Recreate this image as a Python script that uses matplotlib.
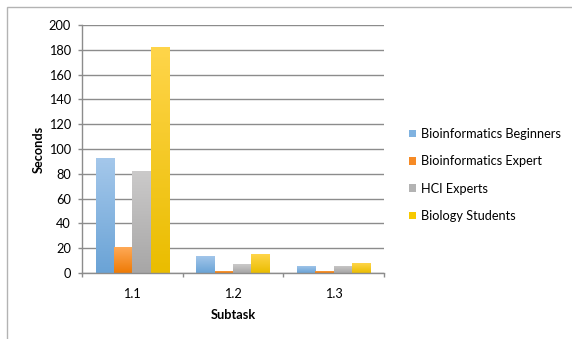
import numpy as np
import matplotlib
matplotlib.use('Agg')
import matplotlib.pyplot as plt
from matplotlib.colors import LinearSegmentedColormap
from matplotlib.patches import Rectangle, Patch

subtasks = ['1.1', '1.2', '1.3']
groups = ['Bioinformatics Beginners', 'Bioinformatics Expert', 'HCI Experts', 'Biology Students']
beginners = [93, 14, 6]
expert = [21, 2, 2]
hci = [82, 7, 6]
biology = [182, 15, 8]
series = [beginners, expert, hci, biology]

# (bottom, top) colours of each bar gradient, plus a flat legend colour
shades = [('#6aa3d6', '#a5c8eb'),
          ('#ee7a05', '#ffab5a'),
          ('#a7a6a6', '#cbcaca'),
          ('#eabd00', '#ffd54a')]
flat = ['#7fb2e0', '#f68a25', '#b3b3b3', '#f7c900']

plt.rcParams['font.family'] = ['Lato', 'DejaVu Sans']
plt.rcParams['font.size'] = 9.2

fig = plt.figure(figsize=(5.72, 3.39), dpi=100)
ax = fig.add_axes([82/572, 1-273/339, 302/572, 248/339])

n = len(series)
gap = 1.5
w = 1.0/(n + gap)
x = np.arange(len(subtasks))
grad = np.linspace(0, 1, 256).reshape(-1, 1)

for i, vals in enumerate(series):
    off = (i - (n-1)/2)*w
    bars = ax.bar(x + off, vals, w, color='none', edgecolor='none', zorder=2)
    cmap = LinearSegmentedColormap.from_list('g%d' % i, shades[i])
    for b in bars:
        x0, y0 = b.get_x(), b.get_y()
        im = ax.imshow(grad, cmap=cmap, origin='lower', aspect='auto',
                       extent=[x0, x0 + b.get_width(), y0, y0 + b.get_height()],
                       zorder=2, interpolation='bilinear')
        im.set_clip_path(b)

ax.set_xlim(-0.5, len(subtasks)-0.5)
ax.set_ylim(0, 200)
ax.set_yticks(np.arange(0, 201, 20))

ax.set_xticks(np.arange(len(subtasks)+1) - 0.5)
ax.set_xticklabels([])
ax.set_xticks(x, minor=True)
ax.set_xticklabels(subtasks, minor=True)
ax.tick_params(axis='x', which='minor', length=0, pad=11)
ax.tick_params(axis='x', which='major', length=3, color='#8c8c8c', width=1)
ax.tick_params(axis='y', length=3, color='#8c8c8c', width=1, pad=5)

ax.yaxis.grid(True, color='#8c8c8c', lw=1)
ax.set_axisbelow(True)
for s in ['top', 'right']:
    ax.spines[s].set_visible(False)
for s in ['left', 'bottom']:
    ax.spines[s].set_color('#8c8c8c')
    ax.spines[s].set_linewidth(1)

ax.set_ylabel('Seconds', fontweight='bold', labelpad=3)
ax.set_xlabel('Subtask', fontweight='bold', labelpad=6)

handles = [Patch(facecolor=c, edgecolor='none') for c in flat]
fig.legend(handles, groups, loc='upper left', bbox_to_anchor=(404/572, 1-123/339),
           frameon=False, handlelength=0.55, handleheight=0.55, handletextpad=0.4,
           labelspacing=1.2, borderaxespad=0)

# chart area border
fig.patches.append(Rectangle((7/572, -0.1), 1.2, 1-7/339+0.1, transform=fig.transFigure,
                             fill=False, ec='#b3b3b3', lw=1))

fig.savefig('out.png', dpi=100)
